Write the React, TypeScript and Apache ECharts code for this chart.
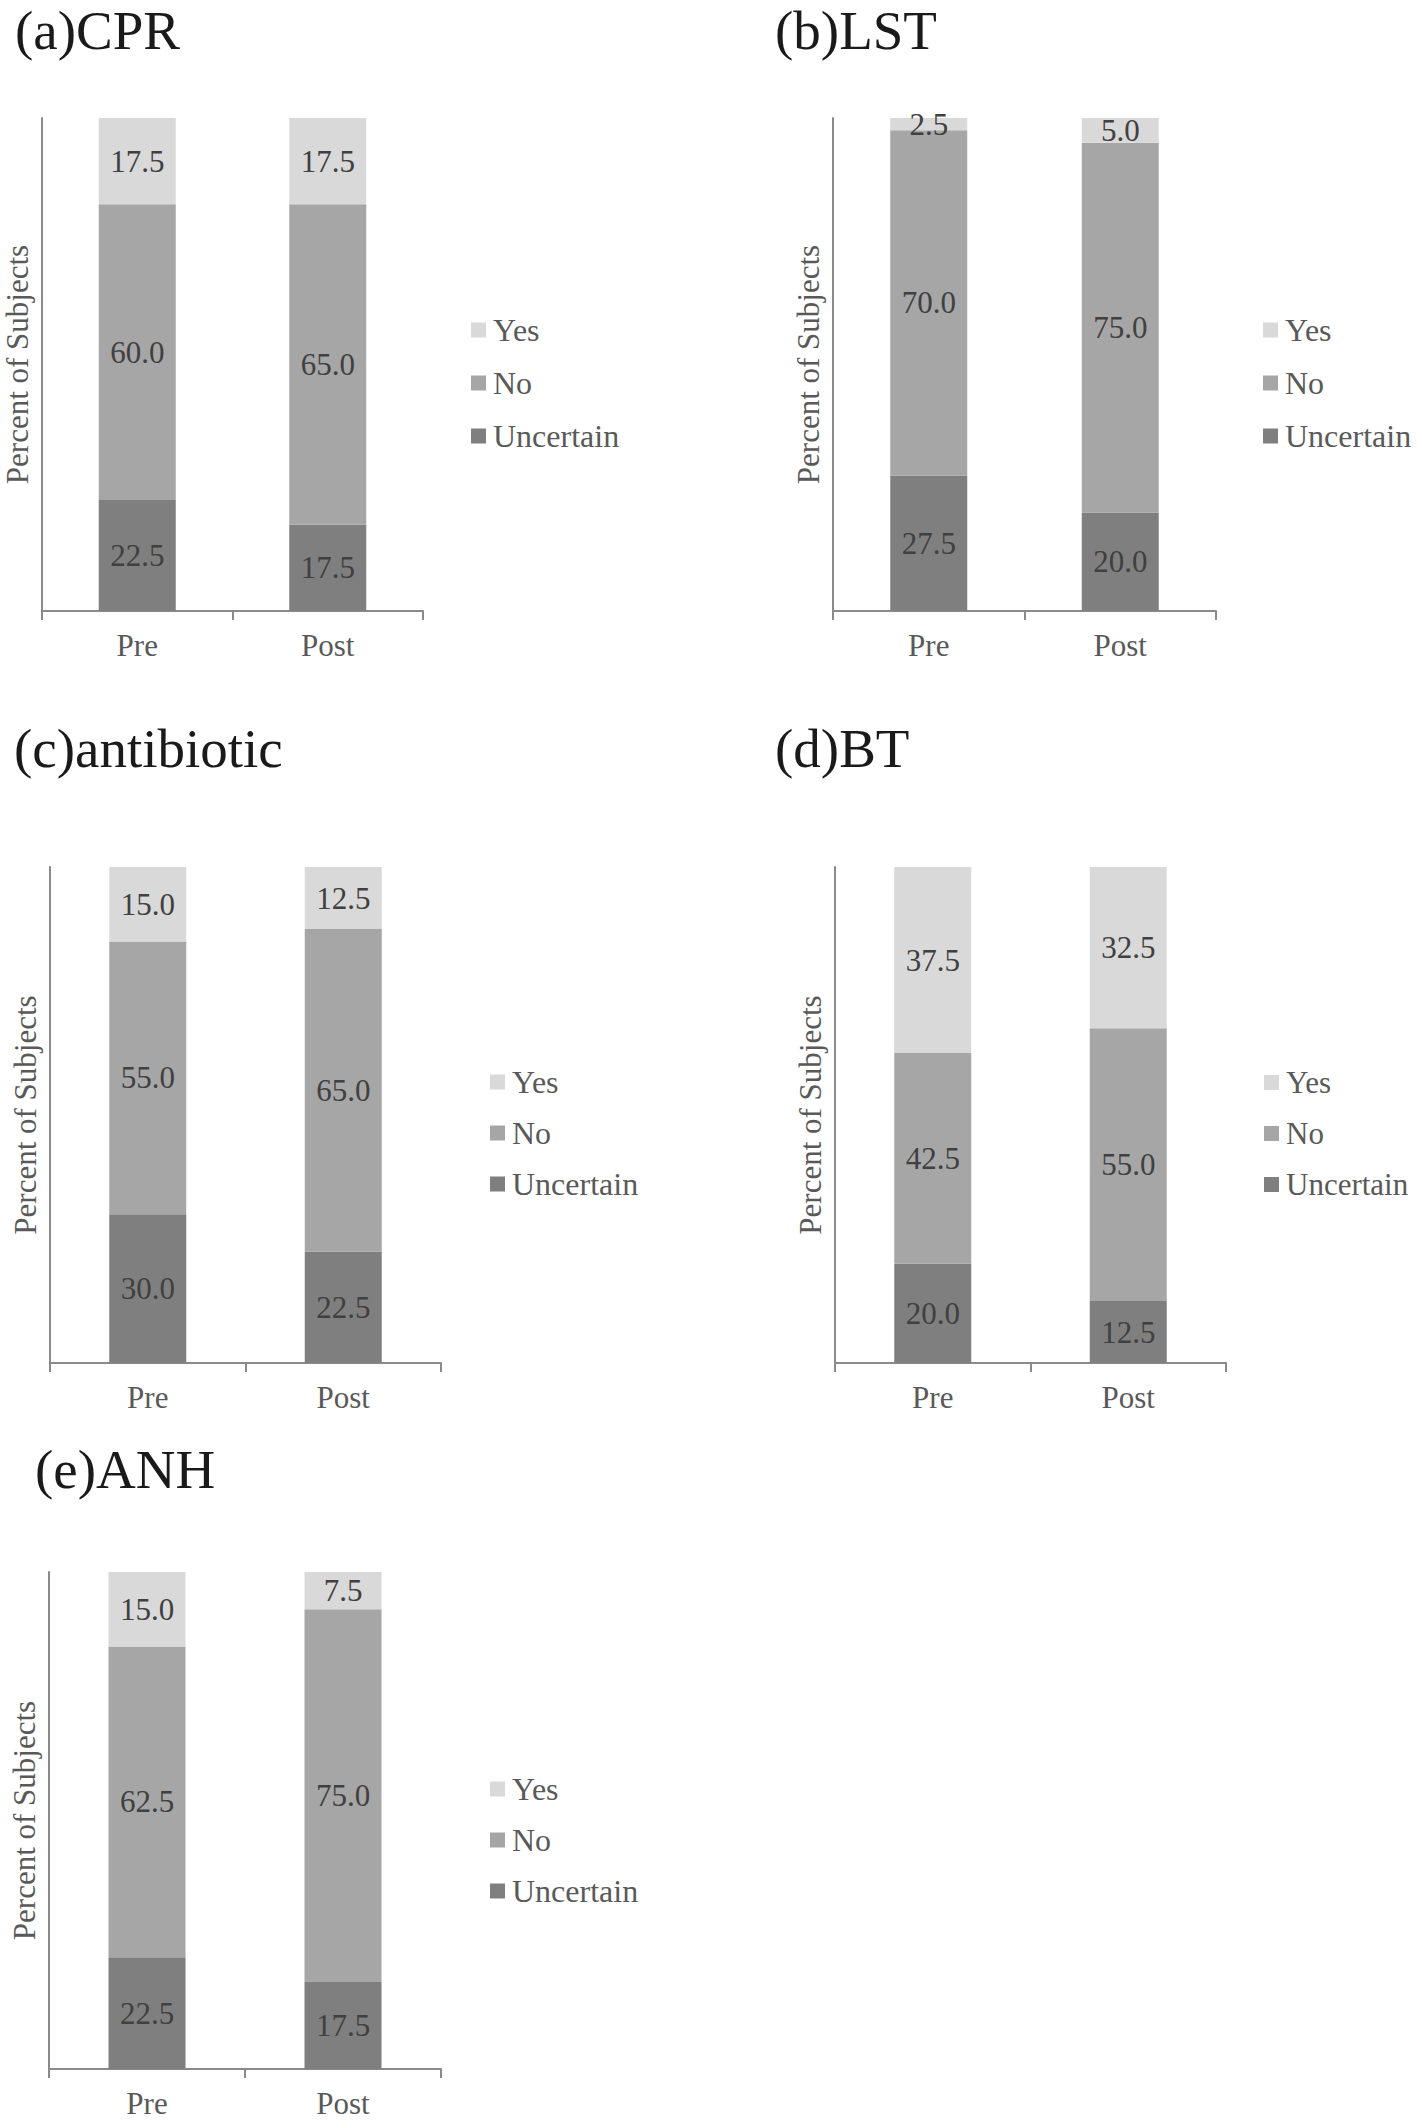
import React, { useEffect, useRef } from "react";
import * as echarts from "echarts";

const categories = ["Pre", "Post"];
const panelTitles = ["(a)CPR", "(b)LST", "(c)antibiotic", "(d)BT", "(e)ANH"];
const seriesNames = ["Yes", "No", "Uncertain"];
const yesValues = [
  [17.5, 17.5],
  [2.5, 5.0],
  [15.0, 12.5],
  [37.5, 32.5],
  [15.0, 7.5],
];
const noValues = [
  [60.0, 65.0],
  [70.0, 75.0],
  [55.0, 65.0],
  [42.5, 55.0],
  [62.5, 75.0],
];
const uncertainValues = [
  [22.5, 17.5],
  [27.5, 20.0],
  [30.0, 22.5],
  [20.0, 12.5],
  [22.5, 17.5],
];
const yAxisTitle = "Percent of Subjects";

const FONT = "'Liberation Serif', 'Times New Roman', Times, serif";
const COLORS: Record<string, string> = {
  Yes: "#d9d9d9",
  No: "#a6a6a6",
  Uncertain: "#7f7f7f",
};
const AXIS_COLOR = "#8a8a8a";

const layouts = [
  { left: 42, top: 118, width: 381, height: 493, titleX: 15, titleY: 3, legendX: 471, legendY: 314, gap: 21, legendFont: 32 },
  { left: 833, top: 118, width: 383, height: 493, titleX: 775, titleY: 3, legendX: 1263, legendY: 314, gap: 21, legendFont: 32 },
  { left: 50, top: 867, width: 391, height: 496, titleX: 14, titleY: 721, legendX: 490, legendY: 1066, gap: 19, legendFont: 32 },
  { left: 835, top: 867, width: 391, height: 496, titleX: 775, titleY: 721, legendX: 1264, legendY: 1067, gap: 20, legendFont: 31 },
  { left: 49, top: 1572, width: 392, height: 497, titleX: 35, titleY: 1442, legendX: 490, legendY: 1773, gap: 19, legendFont: 32 },
];

export default function App() {
  const ref = useRef<HTMLDivElement>(null);

  useEffect(() => {
    if (!ref.current) return;
    const chart = echarts.init(ref.current, undefined, { renderer: "svg" });

    const valuesFor: Record<string, number[][]> = {
      Yes: yesValues,
      No: noValues,
      Uncertain: uncertainValues,
    };

    const series: any[] = [];
    panelTitles.forEach((_, i) => {
      ["Uncertain", "No", "Yes"].forEach((name) => {
        series.push({
          type: "bar",
          name,
          xAxisIndex: i,
          yAxisIndex: i,
          stack: "panel" + i,
          barWidth: 77,
          data: valuesFor[name][i],
          itemStyle: { color: COLORS[name] },
          label: {
            show: true,
            position: "inside",
            fontFamily: FONT,
            fontSize: 31,
            color: "#404040",
            formatter: (p: any) => Number(p.value).toFixed(1),
          },
          emphasis: { disabled: true },
        });
      });
    });

    const option: any = {
      animation: false,
      backgroundColor: "#ffffff",
      title: panelTitles.map((t, i) => ({
        text: t,
        left: layouts[i].titleX,
        top: layouts[i].titleY,
        padding: 0,
        textStyle: {
          fontFamily: FONT,
          fontSize: 55,
          fontWeight: "normal",
          color: "#1a1a1a",
        },
      })),
      legend: layouts.map((l) => ({
        orient: "vertical",
        left: l.legendX,
        top: l.legendY,
        padding: 0,
        itemGap: l.gap,
        itemWidth: 15,
        itemHeight: 15,
        icon: "rect",
        data: seriesNames,
        selectedMode: false,
        textStyle: {
          fontFamily: FONT,
          fontSize: l.legendFont,
          color: "#595959",
          padding: [0, 0, 0, 2],
        },
      })),
      grid: layouts.map((l) => ({
        left: l.left,
        top: l.top,
        width: l.width,
        height: l.height,
        containLabel: false,
      })),
      xAxis: layouts.map((_, i) => ({
        type: "category",
        gridIndex: i,
        data: categories,
        axisLine: { show: true, lineStyle: { color: AXIS_COLOR, width: 2 } },
        axisTick: { show: true, length: 9, lineStyle: { color: AXIS_COLOR, width: 2 } },
        axisLabel: {
          fontFamily: FONT,
          fontSize: 31,
          color: "#595959",
          margin: 19,
        },
      })),
      yAxis: layouts.map((_, i) => ({
        type: "value",
        gridIndex: i,
        min: 0,
        max: 100,
        name: yAxisTitle,
        nameLocation: "middle",
        nameRotate: 90,
        nameGap: 9,
        nameTextStyle: {
          fontFamily: FONT,
          fontSize: 31,
          color: "#595959",
        },
        axisLine: { show: true, lineStyle: { color: AXIS_COLOR, width: 2 } },
        axisTick: { show: false },
        axisLabel: { show: false },
        splitLine: { show: false },
      })),
      series,
    };

    chart.setOption(option);
    return () => chart.dispose();
  }, []);

  return (
    <div
      ref={ref}
      style={{ position: "absolute", left: 0, top: 0, width: 1418, height: 2121, background: "#fff" }}
    />
  );
}
